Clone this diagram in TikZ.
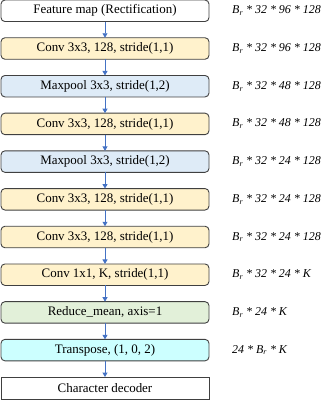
\documentclass[tikz,border=0pt]{standalone}
\usepackage{fontspec}
\setmainfont{Liberation Serif}
\usetikzlibrary{positioning,arrows.meta}
\definecolor{convfill}{HTML}{FFF2CC}
\definecolor{poolfill}{HTML}{DEEBF7}
\definecolor{meanfill}{HTML}{E2F0D9}
\definecolor{transfill}{HTML}{CCFFFF}
\definecolor{layerrule}{HTML}{404040}
\definecolor{flowblue}{HTML}{4472C4}
\newcommand{\br}{B\textsubscript{r}}

\begin{document}
\begin{tikzpicture}[
  layer/.style={draw=layerrule, fill=white, rounded corners=4pt, line width=0.9pt,
    minimum width=208bp, minimum height=21.5bp, inner sep=0pt, outer sep=0pt,
    font=\fontsize{13}{15}\selectfont},
  shapelbl/.style={anchor=west, inner sep=0pt, font=\fontsize{12}{14}\selectfont\itshape},
  flow/.style={-{Triangle[length=4.5pt,width=5pt]}, flowblue, line width=0.9pt}]
  \useasboundingbox (0,0) rectangle (332bp,-401bp);
  \node[layer] (fmap) at (105bp,-10.8bp) {Feature map (Rectification)};
  \node[layer, fill=convfill, below=16.2bp of fmap] (conva) {Conv 3x3, 128, stride(1,1)};
  \node[layer, fill=poolfill, below=16.2bp of conva] (poola) {Maxpool 3x3, stride(1,2)};
  \node[layer, fill=convfill, below=16.2bp of poola] (convb) {Conv 3x3, 128, stride(1,1)};
  \node[layer, fill=poolfill, below=16.2bp of convb] (poolb) {Maxpool 3x3, stride(1,2)};
  \node[layer, fill=convfill, below=16.2bp of poolb] (convc) {Conv 3x3, 128, stride(1,1)};
  \node[layer, fill=convfill, below=16.2bp of convc] (convd) {Conv 3x3, 128, stride(1,1)};
  \node[layer, fill=convfill, below=16.2bp of convd] (convk) {Conv 1x1, K, stride(1,1)};
  \node[layer, fill=meanfill, below=16.2bp of convk] (rmean) {Reduce\_mean, axis=1};
  \node[layer, fill=transfill, below=16.2bp of rmean] (trans) {Transpose, (1, 0, 2)};
  \node[layer, rounded corners=0pt, minimum height=22bp, below=16.2bp of trans] (dec) {Character decoder};
  \draw[flow] (fmap) -- (conva); \draw[flow] (conva) -- (poola); \draw[flow] (poola) -- (convb);
  \draw[flow] (convb) -- (poolb); \draw[flow] (poolb) -- (convc); \draw[flow] (convc) -- (convd);
  \draw[flow] (convd) -- (convk); \draw[flow] (convk) -- (rmean); \draw[flow] (rmean) -- (trans);
  \draw[flow] (trans) -- (dec);
  % output shapes
  \node[shapelbl] (sfmap) at (232bp,0 |- fmap) {\br{} * 32 * 96 * 128};
  \node[shapelbl] (sconva) at (232bp,0 |- conva) {\br{} * 32 * 96 * 128};
  \node[shapelbl] (spoola) at (232bp,0 |- poola) {\br{} * 32 * 48 * 128};
  \node[shapelbl] (sconvb) at (232bp,0 |- convb) {\br{} * 32 * 48 * 128};
  \node[shapelbl] (spoolb) at (232bp,0 |- poolb) {\br{} * 32 * 24 * 128};
  \node[shapelbl] (sconvc) at (232bp,0 |- convc) {\br{} * 32 * 24 * 128};
  \node[shapelbl] (sconvd) at (232bp,0 |- convd) {\br{} * 32 * 24 * 128};
  \node[shapelbl] (sconvk) at (232bp,0 |- convk) {\br{} * 32 * 24 * K};
  \node[shapelbl] (srmean) at (232bp,0 |- rmean) {\br{} * 24 * K};
  \node[shapelbl] (strans) at (232bp,0 |- trans) {24 * \br{} * K};
\end{tikzpicture}
\end{document}
